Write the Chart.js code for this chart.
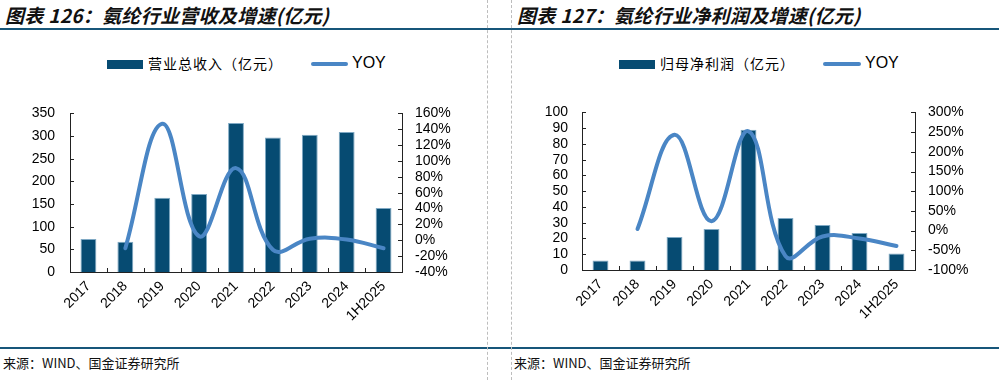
<!DOCTYPE html>
<html><head><meta charset="utf-8">
<script src="https://cdn.jsdelivr.net/npm/chart.js@4"></script>
<style>
body{margin:0;width:999px;height:380px;background:#fff;position:relative;overflow:hidden;font-family:"Liberation Sans",Arial,sans-serif;}
.abs{position:absolute;}
.title{font-family:"Noto Sans CJK SC";font-weight:bold;font-style:italic;font-size:19px;color:#111;top:2px;white-space:nowrap;line-height:26px;letter-spacing:0.3px;}
.hline{left:0;width:999px;height:2px;background:#17567A;}
.vline{top:0;height:380px;width:0;border-left:1px dashed #bdbdbd;}
.src{font-family:"Noto Sans CJK SC";font-size:13px;top:353px;white-space:nowrap;color:#111;line-height:20px;}
.sw{height:9px;background:#064B72;}
.ln{height:4px;background:#4A86C5;border-radius:2px;}
.lt{font-family:"Noto Sans CJK SC";font-size:14px;white-space:nowrap;line-height:20px;letter-spacing:1px;}
.ly{font-family:"Liberation Sans";font-size:16px;line-height:20px;}
canvas{position:absolute;}
</style></head>
<body>
<div class="abs title" style="left:5px;">图表 126：氨纶行业营收及增速(亿元)</div>
<div class="abs title" style="left:517px;">图表 127：氨纶行业净利润及增速(亿元)</div>
<div class="abs hline" style="top:28px;"></div>
<div class="abs hline" style="top:347px;"></div>
<div class="abs vline" style="left:487px;"></div>
<div class="abs vline" style="left:511px;"></div>

<div class="abs sw" style="left:107px;top:60px;width:36px;"></div>
<div class="abs lt" style="left:148px;top:53px;">营业总收入（亿元）</div>
<div class="abs ln" style="left:311px;top:62px;width:37px;"></div>
<div class="abs ly" style="left:352px;top:53px;">YOY</div>

<div class="abs sw" style="left:619px;top:60px;width:36px;"></div>
<div class="abs lt" style="left:660px;top:53px;">归母净利润（亿元）</div>
<div class="abs ln" style="left:823px;top:62px;width:38px;"></div>
<div class="abs ly" style="left:865px;top:53px;">YOY</div>

<canvas id="c1" width="487" height="255" style="left:0;top:90px;"></canvas>
<canvas id="c2" width="488" height="255" style="left:511px;top:90px;"></canvas>

<div class="abs src" style="left:3px;">来源：WIND、国金证券研究所</div>
<div class="abs src" style="left:514px;">来源：WIND、国金证券研究所</div>

<script>
const categories = ['2017','2018','2019','2020','2021','2022','2023','2024','1H2025'];
const revenue = [73, 67, 164, 172, 329, 297, 303, 309, 141];
const revenueYoy = [null, -10, 147, 5, 91, -12, 2, 1, -10];
const profit = [6, 6, 21, 26, 89, 33, 28.5, 23.5, 10.5];
const profitYoy = [null, 4, 243, 24, 252, -65, -15, -20, -39];
const revAxis = [0, 350, 50];
const revYoyAxis = [-40, 160, 20];
const profitAxis = [0, 100, 10];
const profitYoyAxis = [-100, 300, 50];

const BAR = '#064B72', LINE = '#4A86C5', AX = '#222';

const innerTicks = {
  id: 'innerTicks',
  afterDraw(chart) {
    const ctx = chart.ctx, s = chart.scales;
    ctx.save();
    ctx.strokeStyle = AX; ctx.lineWidth = 1;
    s.y.ticks.forEach((t, i) => {
      const py = Math.round(s.y.getPixelForTick(i)) + 0.5;
      ctx.beginPath(); ctx.moveTo(s.y.right, py); ctx.lineTo(s.y.right + 4, py); ctx.stroke();
    });
    s.y1.ticks.forEach((t, i) => {
      const py = Math.round(s.y1.getPixelForTick(i)) + 0.5;
      ctx.beginPath(); ctx.moveTo(s.y1.left, py); ctx.lineTo(s.y1.left - 4, py); ctx.stroke();
    });
    const n = s.x.ticks.length;
    for (let i = 1; i < n; i++) {
      const px = Math.round(s.x.left + i * s.x.width / n) + 0.5;
      ctx.beginPath(); ctx.moveTo(px, s.x.top); ctx.lineTo(px, s.x.top - 4); ctx.stroke();
    }
    ctx.restore();
  }
};

function make(id, bars, yoy, la, ra, g) {
  const font = {family: 'Liberation Sans', size: 14};
  new Chart(document.getElementById(id), {
    data: {
      labels: categories,
      datasets: [
        {type: 'line', data: yoy, yAxisID: 'y1', borderColor: LINE, borderWidth: 4,
         pointRadius: 0, tension: 0.4, fill: false, order: 0, borderCapStyle: 'round'},
        {type: 'bar', data: bars, yAxisID: 'y', backgroundColor: BAR, borderColor: '#7FA9C4',
         borderWidth: 1, barPercentage: 0.43, categoryPercentage: 1, order: 1}
      ]
    },
    options: {
      responsive: false, animation: false, devicePixelRatio: 1,
      layout: {padding: {top: g.pt, left: 0, right: 0, bottom: 0}},
      plugins: {legend: {display: false}, tooltip: {enabled: false}},
      scales: {
        x: {
          offset: true,
          grid: {display: false, drawTicks: false},
          border: {display: true, color: AX, width: 1},
          ticks: {minRotation: 45, maxRotation: 45, autoSkip: false, padding: g.xp, font, color: '#000'},
          afterFit: s => { s.height = g.xh; }
        },
        y: {
          position: 'left', min: la[0], max: la[1],
          grid: {display: false, drawTicks: false},
          border: {display: true, color: AX, width: 1},
          ticks: {stepSize: la[2], autoSkip: false, padding: g.lp, font, color: '#000'},
          afterFit: s => { s.width = g.lw; }
        },
        y1: {
          position: 'right', min: ra[0], max: ra[1],
          grid: {display: false, drawTicks: false},
          border: {display: true, color: AX, width: 1},
          ticks: {stepSize: ra[2], autoSkip: false, padding: g.rp, font, color: '#000', callback: v => v + '%'},
          afterFit: s => { s.width = g.rw; }
        }
      }
    },
    plugins: [innerTicks]
  });
}

make('c1', revenue, revenueYoy, revAxis, revYoyAxis, {pt: 9, lw: 70, rw: 85, xh: 73, lp: 15, rp: 13, xp: 6});
make('c2', profit, profitYoy, profitAxis, profitYoyAxis, {pt: 8, lw: 71, rw: 84, xh: 75, lp: 14, rp: 13, xp: 6});
</script>
</body></html>
